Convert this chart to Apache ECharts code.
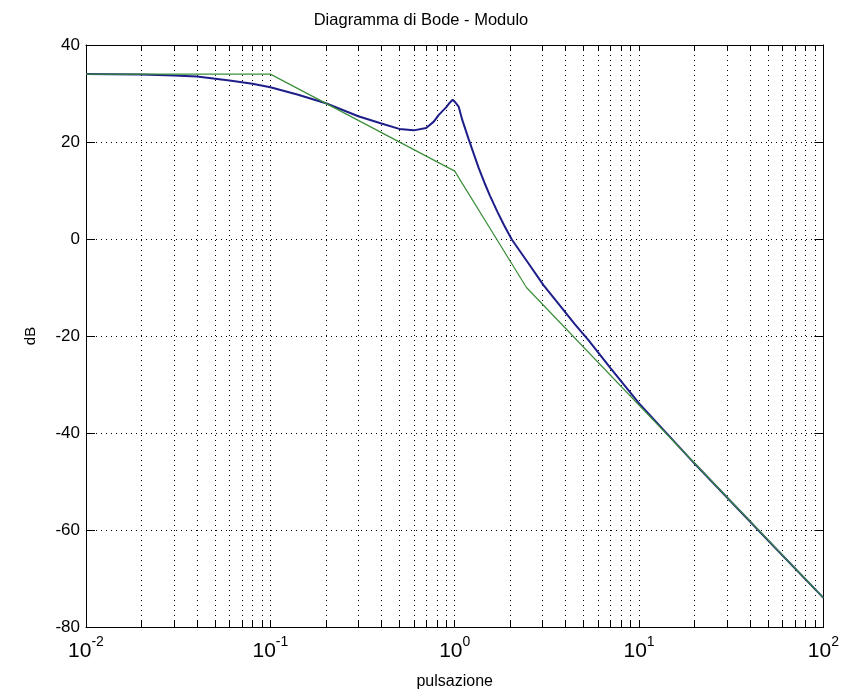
<!DOCTYPE html>
<html><head><meta charset="utf-8">
<script src="https://cdn.jsdelivr.net/npm/echarts@6/dist/echarts.min.js"></script>
<style>html,body{margin:0;padding:0;background:#fff}#c{width:842px;height:698px}</style>
</head><body><div id="c"></div>
<script>
// Blue: actual magnitude response (pulsazione, dB)
const blueW  = [0.01,0.02,0.03,0.04,0.06,0.08,0.1,0.14,0.2,0.3,0.4,0.5,0.6,0.7,0.77,0.82,0.9,0.94,0.975,1.0,1.05,1.1,1.19,1.27,1.35,1.45,1.55,1.7,1.85,2.04,2.51,3.03,3.65,4.49,5.3,7,10,20,50,100];
const blueDB = [34.0,33.9,33.7,33.5,32.7,32.0,31.3,29.8,28.0,25.3,23.8,22.7,22.4,22.9,24.2,25.6,27.2,28.1,28.7,28.3,27.3,24.5,20.6,17.5,14.6,11.6,9.0,5.7,2.9,-0.1,-5.0,-9.5,-13.3,-17.6,-20.8,-26.6,-33.9,-46.3,-62.1,-74.0];
// Green: asymptotic approximation
const greenW  = [0.01,0.1,1,2.45,100];
const greenDB = [34,34,14,-10,-74];
// Axis ticks
const xMajor = [0.01,0.1,1,10,100];
const yTicks = [-80,-60,-40,-20,0,20,40];
const titleText = 'Diagramma di Bode - Modulo';
const xName = 'pulsazione';
const yName = 'dB';

const xAll = [];
for (let e = -2; e < 2; e++) for (let k = 1; k < 10; k++) xAll.push(+(k * Math.pow(10, e)).toPrecision(3));
xAll.push(100);

const font = 'Liberation Sans, Arial, sans-serif';
const dotted = {color: '#000', width: 1, type: [1, 4]};
const chart = echarts.init(document.getElementById('c'));
const zip = (a, b) => a.map((v, i) => [v, b[i]]);
chart.setOption({
  backgroundColor: '#fff',
  animation: false,
  title: {text: titleText, left: 'center', top: 7, textStyle: {fontFamily: font, fontSize: 16.5, fontWeight: 'normal', color: '#000'}},
  grid: {left: 86, right: 16, top: 45, bottom: 71, containLabel: false},
  xAxis: [{
    type: 'log', logBase: 10, min: 0.01, max: 100, position: 'bottom',
    axisLine: {show: true, onZero: false, lineStyle: {color: '#000', width: 1}},
    axisTick: {show: true, inside: true, length: 6, customValues: xAll, lineStyle: {color: '#000'}},
    axisLabel: {show: true, customValues: xMajor, margin: 8, color: '#000',
      formatter: v => '{b|10}{s|' + Math.round(Math.log10(v)) + '}',
      rich: {b: {fontFamily: font, fontSize: 21, color: '#000', verticalAlign: 'bottom'},
             s: {fontFamily: font, fontSize: 14, color: '#000', verticalAlign: 'bottom', padding: [0, 0, 13, 0]}}},
    splitLine: {show: true, lineStyle: dotted},
    name: xName, nameLocation: 'middle', nameGap: 47,
    nameTextStyle: {fontFamily: font, fontSize: 16, color: '#000'}
  }, {
    type: 'log', logBase: 10, min: 0.01, max: 100, position: 'top',
    axisLine: {show: true, onZero: false, lineStyle: {color: '#000', width: 1}},
    axisTick: {show: true, inside: true, length: 6, customValues: xAll, lineStyle: {color: '#000'}},
    axisLabel: {show: false}, splitLine: {show: false}
  }],
  yAxis: [{
    type: 'value', min: -80, max: 40, interval: 20, position: 'left',
    axisLine: {show: true, onZero: false, lineStyle: {color: '#000', width: 1}},
    axisTick: {show: true, inside: true, length: 9, lineStyle: {color: '#000'}},
    axisLabel: {color: '#000', fontFamily: font, fontSize: 17, margin: 6},
    splitLine: {show: true, lineStyle: dotted},
    name: yName, nameLocation: 'middle', nameGap: 48,
    nameTextStyle: {fontFamily: font, fontSize: 15, color: '#000'}
  }, {
    type: 'value', min: -80, max: 40, interval: 20, position: 'right',
    axisLine: {show: true, onZero: false, lineStyle: {color: '#000', width: 1}},
    axisTick: {show: true, inside: true, length: 9, lineStyle: {color: '#000'}},
    axisLabel: {show: false}, splitLine: {show: false}
  }],
  series: [{
    type: 'line', name: 'modulo', data: zip(blueW, blueDB), showSymbol: false, smooth: false,
    lineStyle: {color: '#1e1e8a', width: 2}, z: 3
  }, {
    type: 'line', name: 'asintotico', data: zip(greenW, greenDB), showSymbol: false,
    lineStyle: {color: '#3a8e3a', width: 1.2}, z: 4
  }]
});
</script></body></html>
